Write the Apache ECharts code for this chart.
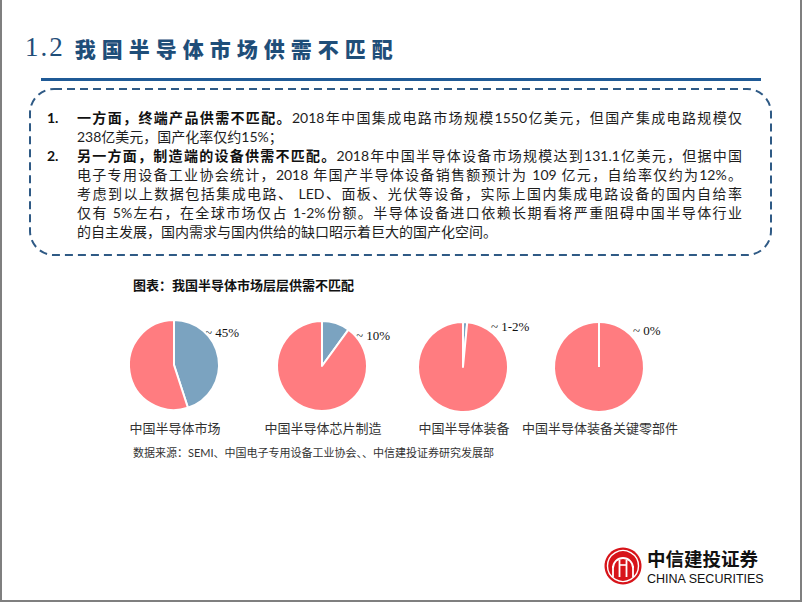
<!DOCTYPE html>
<html>
<head>
<meta charset="utf-8">
<script src="https://cdn.jsdelivr.net/npm/echarts@6/dist/echarts.min.js"></script>
<style>
  html, body { margin: 0; padding: 0; background: #fff; }
  #wrap { position: relative; width: 802px; height: 602px; overflow: hidden; }
  #chart { position: absolute; left: 0; top: 0; width: 802px; height: 602px; }
  #title { position: absolute; left: 25px; top: 32px; height: 32px; white-space: nowrap; color: #1F4E79; }
  #title .no { font-family: "Liberation Serif", "DejaVu Serif", serif; font-size: 27px; letter-spacing: 2px; vertical-align: middle; }
  #title .zh { font-family: "Noto Sans CJK SC", sans-serif; font-weight: 900; font-size: 21px; letter-spacing: 6px; margin-left: 10px; vertical-align: middle; }
  #para { position: absolute; left: 0; top: 108px; width: 802px; font-family: Lato, "Noto Sans CJK SC", sans-serif; font-size: 14px; line-height: 19px; color: #1e1e1e; }
  #para .row { position: relative; height: 19px; }
  #para .num { position: absolute; left: 47px; top: 0; font-weight: bold; color: #111; }
  #para .txt { position: absolute; left: 77px; top: 0; width: 665px; white-space: nowrap; }
  #para .full { text-align: justify; text-align-last: justify; }
  #para b { color: #111; }
</style>
</head>
<body>
<div id="wrap">
  <div id="chart"></div>
  <div id="title"><span class="no">1.2</span><span class="zh">我国半导体市场供需不匹配</span></div>
  <div id="para">
    <div class="row"><span class="num">1.</span><span class="txt full"><b>一方面，终端产品供需不匹配。</b>2018年中国集成电路市场规模1550亿美元，但国产集成电路规模仅</span></div>
    <div class="row"><span class="txt">238亿美元，国产化率仅约15%；</span></div>
    <div class="row"><span class="num">2.</span><span class="txt full"><b>另一方面，制造端的设备供需不匹配。</b>2018年中国半导体设备市场规模达到131.1亿美元，但据中国</span></div>
    <div class="row"><span class="txt full">电子专用设备工业协会统计，2018 年国产半导体设备销售额预计为 109 亿元，自给率仅约为12%。</span></div>
    <div class="row"><span class="txt full">考虑到以上数据包括集成电路、 LED、面板、光伏等设备，实际上国内集成电路设备的国内自给率</span></div>
    <div class="row"><span class="txt full">仅有 5%左右，在全球市场仅占 1-2%份额。半导体设备进口依赖长期看将严重阻碍中国半导体行业</span></div>
    <div class="row"><span class="txt">的自主发展，国内需求与国内供给的缺口昭示着巨大的国产化空间。</span></div>
  </div>
</div>
<script>
// ---- data ----
const categories = ['中国半导体市场', '中国半导体芯片制造', '中国半导体装备', '中国半导体装备关键零部件'];
const domesticShare = [45, 10, 1.5, 0];
const foreignShare = [55, 90, 98.5, 100];
const shareLabels = ['~ 45%', '~ 10%', '~ 1-2%', '~ 0%'];
const chartCaption = '图表：我国半导体市场层层供需不匹配';
const sourceNote = '数据来源：SEMI、中国电子专用设备工业协会、、中信建投证券研究发展部';

// ---- layout ----
const pieCenters = [[174, 365], [322, 366], [463, 367], [599, 367]];
const pieRadius = 45;
const labelOffsets = [[31, -33], [34, -31], [28, -41], [34, -37]];
const BLUE = '#7BA3C0';
const RED = '#FF7C80';

const chart = echarts.init(document.getElementById('chart'), null, { renderer: 'svg', width: 802, height: 602 });

const series = categories.map((name, i) => ({
  type: 'pie',
  name: name,
  center: pieCenters[i],
  radius: pieRadius,
  startAngle: 90,
  clockwise: true,
  silent: true,
  animation: false,
  label: { show: false },
  labelLine: { show: false },
  itemStyle: { borderColor: '#fff', borderWidth: 2 },
  data: [
    { name: '国产', value: domesticShare[i], itemStyle: { color: BLUE } },
    { name: '进口', value: foreignShare[i], itemStyle: { color: RED } }
  ]
}));

const g = [];
// slide frame
g.push({ type: 'line', shape: { x1: 1, y1: 0, x2: 1, y2: 601 }, style: { stroke: '#7f7f7f', lineWidth: 2 } });
g.push({ type: 'line', shape: { x1: 801, y1: 0, x2: 801, y2: 601 }, style: { stroke: '#7f7f7f', lineWidth: 2 } });
g.push({ type: 'line', shape: { x1: 0, y1: 601, x2: 802, y2: 601 }, style: { stroke: '#7f7f7f', lineWidth: 2 } });
// title underline
g.push({ type: 'line', shape: { x1: 41, y1: 79.5, x2: 761, y2: 79.5 }, style: { stroke: '#1F5A96', lineWidth: 3 } });
// dashed rounded box
g.push({ type: 'rect', shape: { x: 30, y: 89, width: 741, height: 166, r: 24 },
  style: { fill: 'none', stroke: '#2F5A85', lineWidth: 2, lineDash: [8, 5] } });
// start-angle separator of each pie (12 o'clock)
pieCenters.forEach(c => {
  g.push({ type: 'line', z: 10, shape: { x1: c[0], y1: c[1], x2: c[0], y2: c[1] - pieRadius }, style: { stroke: '#fff', lineWidth: 2 } });
});
// caption
g.push({ type: 'text', x: 133, y: 284, style: { text: chartCaption, fill: '#111', font: 'bold 13px "Noto Sans CJK SC", sans-serif', textVerticalAlign: 'middle' } });
// category labels & share labels
categories.forEach((name, i) => {
  g.push({ type: 'text', x: pieCenters[i][0] + 1, y: 427, style: { text: name, fill: '#333', font: '13px "Noto Sans CJK SC", sans-serif', textAlign: 'center', textVerticalAlign: 'middle' } });
  g.push({ type: 'text', x: pieCenters[i][0] + labelOffsets[i][0], y: pieCenters[i][1] + labelOffsets[i][1],
    style: { text: shareLabels[i], fill: '#111', font: '13px "Liberation Serif", serif', textVerticalAlign: 'middle' } });
});
// source
g.push({ type: 'text', x: 133, y: 452, style: { text: sourceNote, fill: '#333', font: '11px Lato, "Noto Sans CJK SC", sans-serif', textVerticalAlign: 'middle' } });
// logo
const lx = 623, ly = 566;
g.push({ type: 'circle', shape: { cx: lx, cy: ly, r: 18.5 }, style: { fill: '#D7141A' } });
g.push({ type: 'circle', shape: { cx: lx, cy: ly, r: 15.5 }, style: { fill: 'none', stroke: '#fff', lineWidth: 1.4 } });
g.push({ type: 'arc', shape: { cx: lx, cy: ly + 2, r: 10, startAngle: Math.PI, endAngle: 2 * Math.PI }, style: { fill: 'none', stroke: '#fff', lineWidth: 1.8 } });
[-10, -3.5, 3.5, 10].forEach(dx => {
  g.push({ type: 'line', shape: { x1: lx + dx, y1: ly - (Math.abs(dx) > 5 ? 0 : 6), x2: lx + dx, y2: ly + 11 }, style: { stroke: '#fff', lineWidth: 1.8 } });
});
g.push({ type: 'line', shape: { x1: lx - 3.5, y1: ly - 1, x2: lx + 3.5, y2: ly - 1 }, style: { stroke: '#fff', lineWidth: 1.6 } });
g.push({ type: 'text', x: 647, y: 558, style: { text: '中信建投证券', fill: '#111', font: 'bold 18.5px "Noto Sans CJK SC", sans-serif', textVerticalAlign: 'middle', lineHeight: 18 } });
g.push({ type: 'text', x: 647, y: 579, style: { text: 'CHINA SECURITIES', fill: '#111', font: '500 12.5px "Liberation Sans", Arial, sans-serif', textVerticalAlign: 'middle', lineHeight: 12 } });

chart.setOption({
  animation: false,
  backgroundColor: '#fff',
  series: series,
  graphic: { elements: g }
});
</script>
</body>
</html>
